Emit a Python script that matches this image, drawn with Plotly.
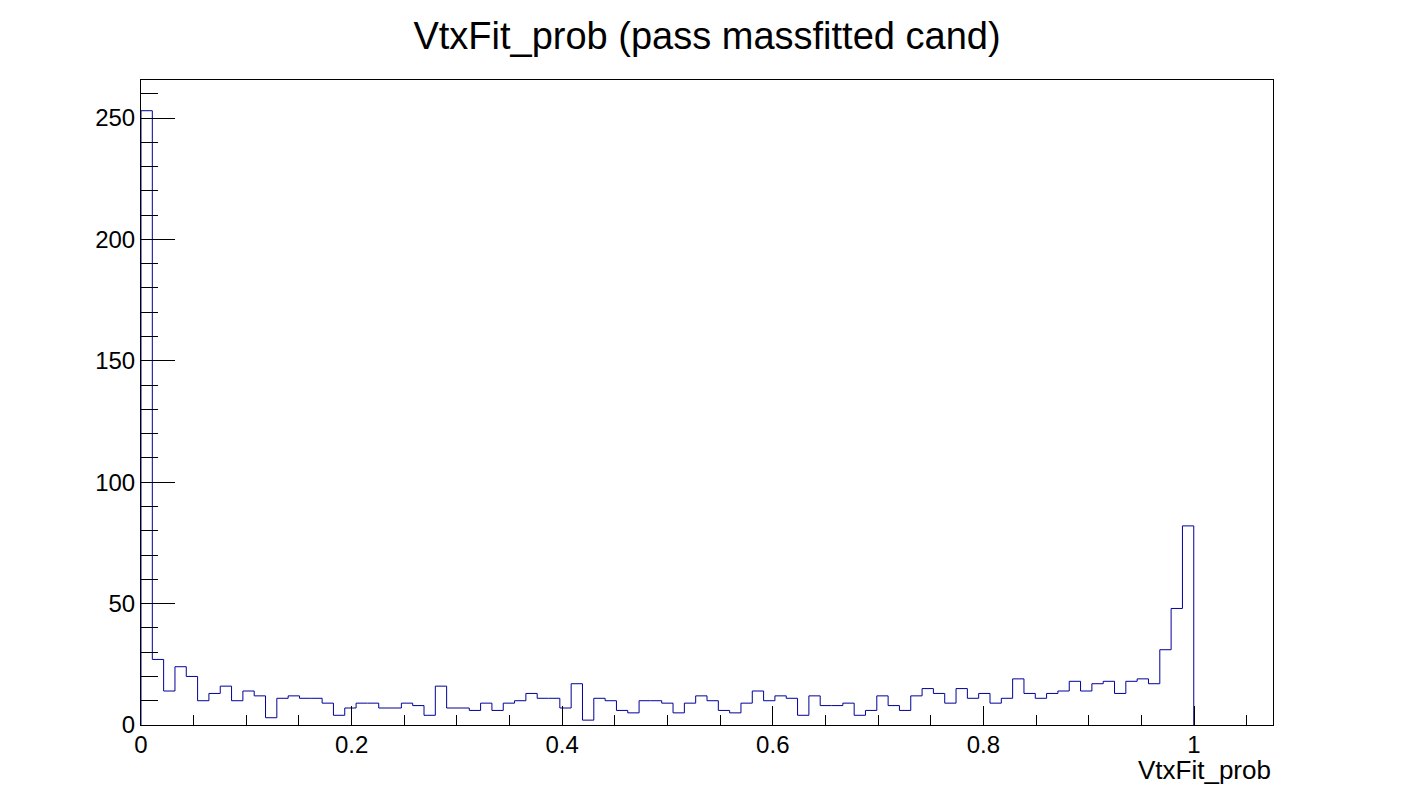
import numpy as np
import plotly.graph_objects as go

# Histogram definition: 100 bins from 0 to 1.075
x_min = 0.0
x_max = 1.075
n_bins = 100

counts = [
    253, 27, 14, 24, 20, 10, 13, 16, 10, 14,
    12, 3, 11, 12, 11, 11, 9, 4, 7, 9,
    9, 7, 7, 9, 8, 4, 16, 7, 7, 6,
    9, 6, 9, 10, 13, 11, 11, 7, 17, 2,
    11, 10, 6, 5, 10, 10, 9, 5, 9, 12,
    10, 6, 5, 9, 14, 10, 12, 11, 4, 12,
    8, 8, 9, 4, 6, 12, 8, 6, 12, 15,
    13, 9, 15, 11, 13, 9, 11, 19, 13, 11,
    13, 14, 18, 14, 17, 18, 13, 18, 19, 17,
    31, 48, 82, 0, 0, 0, 0, 0, 0, 0,
]

title_text = "VtxFit_prob (pass massfitted cand)"
x_title = "VtxFit_prob"
x_tick_vals = [0, 0.2, 0.4, 0.6, 0.8, 1.0]
x_tick_text = ["0", "0.2", "0.4", "0.6", "0.8", "1"]
y_tick_vals = [0, 50, 100, 150, 200, 250]

edges = np.linspace(x_min, x_max, n_bins + 1)
y_max = max(counts) * 1.05

# outline: stop at the last non-empty bin and drop to zero (empty tail lies on the axis)
last = max(i for i, c in enumerate(counts) if c > 0)
xs = [edges[0]] + list(edges[:last + 1]) + [edges[last + 1]]
ys = [0] + list(counts[:last + 1]) + [0]

FONT = "Liberation Sans, Arial, Helvetica, sans-serif"

fig = go.Figure()
fig.add_trace(go.Scatter(
    x=xs, y=ys, mode="lines", line=dict(shape="hv", color="#000099", width=1),
    hoverinfo="skip", showlegend=False,
))

fig.update_layout(
    width=1416, height=805,
    paper_bgcolor="white", plot_bgcolor="white",
    margin=dict(l=141, r=143, t=80, b=80),
    font=dict(family=FONT, color="black", size=24),
    title=dict(text=title_text, x=0.5, xref="paper", xanchor="center",
               y=1 - 36 / 805, yref="container", yanchor="middle",
               font=dict(size=38, family=FONT, color="black"), automargin=False),
    showlegend=False,
)

fig.update_xaxes(
    range=[x_min, x_max], showgrid=False, zeroline=False, automargin=False,
    showline=True, linecolor="black", linewidth=1, mirror=True,
    tickmode="array", tickvals=x_tick_vals, ticktext=x_tick_text,
    ticks="inside", ticklen=19, tickcolor="black", tickwidth=1,
    minor=dict(dtick=0.05, tick0=0, ticks="inside", ticklen=10, tickcolor="black", tickwidth=1, showgrid=False),
    tickfont=dict(size=24, family=FONT, color="black"),
    ticklabelstandoff=-2,
)
fig.update_yaxes(
    range=[0, y_max], showgrid=False, zeroline=False, automargin=False,
    showline=True, linecolor="black", linewidth=1, mirror=True,
    tickmode="array", tickvals=y_tick_vals,
    ticks="inside", ticklen=34, tickcolor="black", tickwidth=1,
    minor=dict(dtick=10, tick0=0, ticks="inside", ticklen=17, tickcolor="black", tickwidth=1, showgrid=False),
    tickfont=dict(size=24, family=FONT, color="black"),
)

fig.add_annotation(
    text=x_title, x=1, xref="paper", xanchor="right",
    y=(725 - 770) / 645, yref="paper", yanchor="middle",
    showarrow=False, font=dict(size=26, family=FONT, color="black"),
)

fig.write_html("out.html", config={"displayModeBar": False},
               post_script="document.body.style.margin='0px';")
